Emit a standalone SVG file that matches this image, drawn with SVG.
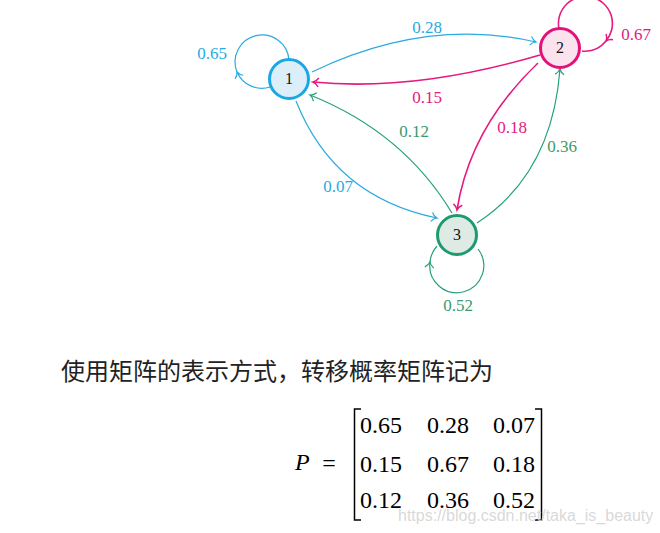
<svg xmlns="http://www.w3.org/2000/svg" width="660" height="533" viewBox="0 0 660 533">
<style>
.lbl{font-family:"Liberation Serif","DejaVu Serif",serif;font-size:17px;text-anchor:middle}
.nlb{font-family:"Liberation Serif","DejaVu Serif",serif;font-size:16px;text-anchor:middle;fill:#111}
.b{stroke:#29aae1;fill:none;stroke-width:1.2}
.p{stroke:#e5197e;fill:none;stroke-width:1.6}
.g{stroke:#23a17a;fill:none;stroke-width:1.2}
.m{font-family:"Liberation Serif","DejaVu Serif",serif;font-size:24px;fill:#000}
</style>
<defs>
<marker id="ab" markerUnits="userSpaceOnUse" viewBox="-7 -6 8 12" refX="0" refY="0" markerWidth="8" markerHeight="12" orient="auto" overflow="visible"><path d="M-5.5,-4.5 C-4,-2 -2,-0.6 0,0 C-2,0.6 -4,2 -5.5,4.5" fill="none" stroke="#29aae1" stroke-width="1.2"/></marker>
<marker id="ap" markerUnits="userSpaceOnUse" viewBox="-7 -6 8 12" refX="0" refY="0" markerWidth="8" markerHeight="12" orient="auto" overflow="visible"><path d="M-5.5,-4.5 C-4,-2 -2,-0.6 0,0 C-2,0.6 -4,2 -5.5,4.5" fill="none" stroke="#e5197e" stroke-width="1.5"/></marker>
<marker id="ag" markerUnits="userSpaceOnUse" viewBox="-7 -6 8 12" refX="0" refY="0" markerWidth="8" markerHeight="12" orient="auto" overflow="visible"><path d="M-5.5,-4.5 C-4,-2 -2,-0.6 0,0 C-2,0.6 -4,2 -5.5,4.5" fill="none" stroke="#23a17a" stroke-width="1.2"/></marker>
</defs>
<rect width="660" height="533" fill="#fff"/>
<g id="connectors">
<path class="b" d="M270,87 A27,27 0 0 1 237,72" marker-end="url(#ab)"/>
<path class="b" d="M237,72 A27,27 0 1 1 289,60"/>
<path class="p" d="M559,29 A27,27 0 1 1 606,41" marker-end="url(#ap)"/>
<path class="p" d="M606,41 A27,27 0 0 1 582,51"/>
<path class="g" d="M478,249 A27,27 0 1 1 430,262" marker-end="url(#ag)"/>
<path class="g" d="M430,262 A27,27 0 0 1 437,246"/>
<path class="b" d="M312,72 Q426,17 536,42" marker-end="url(#ab)"/>
<path class="p" d="M540,55 Q414,92 313,82" marker-end="url(#ap)" stroke-width="1.9"/>
<path class="g" d="M452,213 Q403,132 310,95" marker-end="url(#ag)"/>
<path class="b" d="M296,101 Q334,197 437,218" marker-end="url(#ab)"/>
<path class="p" d="M538,63 Q470,128 457,210" marker-end="url(#ap)"/>
<path class="g" d="M477,223 Q552,174 560,69" marker-end="url(#ag)"/>
<text class="lbl" x="212" y="59" fill="#29aae1">0.65</text>
<text class="lbl" x="427" y="33" fill="#29aae1">0.28</text>
<text class="lbl" x="427" y="103" fill="#e5197e">0.15</text>
<text class="lbl" x="636" y="40" fill="#e5197e">0.67</text>
<text class="lbl" x="414" y="137" fill="#3a9a6c">0.12</text>
<text class="lbl" x="512" y="133" fill="#e5197e">0.18</text>
<text class="lbl" x="562" y="152" fill="#3a9a6c">0.36</text>
<text class="lbl" x="338" y="192" fill="#29aae1">0.07</text>
<text class="lbl" x="458" y="311" fill="#3a9a6c">0.52</text>
</g>
<g id="node1">
<circle cx="289" cy="79" r="19.5" fill="#dceefa" stroke="#1ba7e4" stroke-width="3"/>
<text class="nlb" x="289" y="84">1</text>
</g>
<g id="node2">
<circle cx="560" cy="48" r="19.5" fill="#fbe3ee" stroke="#e2127a" stroke-width="3"/>
<text class="nlb" x="560" y="53">2</text>
</g>
<g id="node3">
<circle cx="457" cy="235" r="19.5" fill="#deebe4" stroke="#1e9a70" stroke-width="3"/>
<text class="nlb" x="457" y="240">3</text>
</g>
<g id="text">
<text x="61" y="380" font-family="'Noto Sans CJK SC','Noto Sans CJK JP',sans-serif" font-size="24" fill="#222">使用矩阵的表示方式，转移概率矩阵记为</text>
<text class="m" x="295" y="470" font-style="italic" font-size="26">P</text>
<text class="m" x="329" y="471" text-anchor="middle" font-size="30">=</text>
<path d="M361,409 H354.5 V520 H361" fill="none" stroke="#000" stroke-width="1.5"/>
<path d="M535,409 H541.5 V520 H535" fill="none" stroke="#000" stroke-width="1.5"/>
<text class="m" x="360" y="433">0.65</text>
<text class="m" x="427" y="433">0.28</text>
<text class="m" x="493" y="433">0.07</text>
<text class="m" x="360" y="472">0.15</text>
<text class="m" x="427" y="472">0.67</text>
<text class="m" x="493" y="472">0.18</text>
<text class="m" x="360" y="508">0.12</text>
<text class="m" x="427" y="508">0.36</text>
<text class="m" x="493" y="508">0.52</text>
<text x="398" y="521" font-family="'Liberation Sans',Arial,sans-serif" font-size="16" fill="#d4d4d4" fill-opacity="0.9">https://blog.csdn.net/taka_is_beauty</text>
</g>
</svg>
